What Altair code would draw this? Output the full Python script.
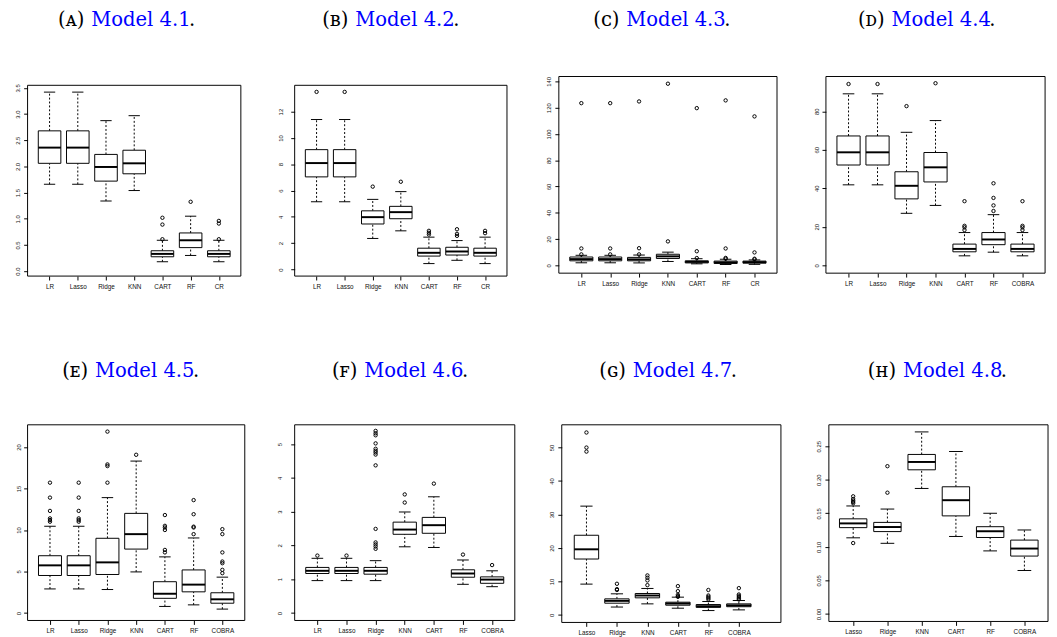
import altair as alt
import pandas as pd

AXIS_FONT = "Liberation Sans"
TITLE_FONT = "DejaVu Serif"
BLUE = "#0000ff"
TITLE_SIZE = 20
MODEL_W = 100

CATS_CR = ["LR", "Lasso", "Ridge", "KNN", "CART", "RF", "CR"]
CATS_COBRA = ["LR", "Lasso", "Ridge", "KNN", "CART", "RF", "COBRA"]
CATS_6 = ["Lasso", "Ridge", "KNN", "CART", "RF", "COBRA"]

# ---------------- Panel A : Model 4.1 ----------------
A_LOW = [1.66, 1.66, 1.34, 1.54, 0.18, 0.30, 0.18]
A_Q1 = [2.06, 2.06, 1.72, 1.86, 0.275, 0.45, 0.275]
A_MED = [2.36, 2.36, 1.99, 2.06, 0.33, 0.59, 0.33]
A_Q3 = [2.68, 2.68, 2.23, 2.31, 0.39, 0.73, 0.39]
A_HIGH = [3.42, 3.42, 2.875, 2.97, 0.59, 1.05, 0.59]
A_OUT = [[], [], [], [], [0.61, 0.89, 1.02], [1.325], [0.61, 0.91, 0.96]]
A_TICKS = [0, 0.5, 1.0, 1.5, 2.0, 2.5, 3.0, 3.5]

# ---------------- Panel B : Model 4.2 ----------------
B_LOW = [5.15, 5.15, 2.36, 2.94, 0.45, 0.70, 0.45]
B_Q1 = [7.04, 7.04, 3.46, 3.86, 1.02, 1.10, 1.02]
B_MED = [8.09, 8.09, 3.98, 4.36, 1.27, 1.37, 1.27]
B_Q3 = [9.11, 9.11, 4.46, 4.80, 1.62, 1.69, 1.62]
B_HIGH = [11.4, 11.4, 5.33, 5.92, 2.46, 2.20, 2.46]
B_OUT = [[13.5], [13.5], [6.3], [6.67], [2.66, 2.79, 2.94], [2.56, 2.71, 3.06], [2.76, 2.94]]
B_TICKS = [0, 2, 4, 6, 8, 10, 12]

# ---------------- Panel C : Model 4.3 ----------------
C_LOW = [1.9, 1.9, 1.8, 2.9, 1.1, 0.6, 0.7]
C_Q1 = [3.4, 3.4, 3.4, 5.2, 1.8, 1.4, 1.6]
C_MED = [4.7, 4.7, 4.5, 6.8, 2.6, 2.2, 2.4]
C_Q3 = [6.3, 6.3, 6.0, 8.4, 3.4, 3.2, 3.2]
C_HIGH = [7.6, 7.6, 7.8, 10.0, 5.0, 4.6, 4.1]
C_OUT = [[8.3, 12.8, 123.5], [8.3, 12.8, 123.5], [8.3, 13.0, 124.8], [18.2, 138.3],
         [5.5, 10.7, 119.7], [5.0, 5.6, 12.8, 125.6], [4.5, 5.0, 9.8, 113.4]]
C_TICKS = [0, 20, 40, 60, 80, 100, 120, 140]

# ---------------- Panel D : Model 4.4 ----------------
D_LOW = [41.8, 41.8, 27.0, 31.1, 4.9, 6.8, 4.9]
D_Q1 = [52.1, 52.1, 34.5, 43.3, 7.0, 10.7, 7.0]
D_MED = [58.7, 58.7, 41.3, 50.9, 8.5, 13.4, 8.5]
D_Q3 = [67.2, 67.2, 48.6, 58.6, 11.0, 17.0, 11.0]
D_HIGH = [89.1, 89.1, 69.1, 75.2, 17.0, 26.3, 17.0]
D_OUT = [[94.2], [94.2], [82.7], [94.6], [18.3, 19.7, 20.5, 33.3],
         [28.2, 31.1, 35.0, 42.6], [18.3, 19.7, 20.5, 33.3]]
D_TICKS = [0, 20, 40, 60, 80]

# ---------------- Panel E : Model 4.5 ----------------
E_LOW = [2.9, 2.9, 2.83, 4.95, 0.79, 0.98, 0.47]
E_Q1 = [4.52, 4.52, 4.64, 7.7, 1.77, 2.55, 1.18]
E_MED = [5.74, 5.74, 6.1, 9.5, 2.32, 3.42, 1.65]
E_Q3 = [6.9, 6.9, 9.0, 12.0, 3.77, 5.19, 2.44]
E_HIGH = [10.45, 10.45, 13.9, 18.3, 6.76, 9.04, 4.32]
E_OUT = [[11.0, 11.2, 11.4, 12.3, 13.9, 15.7], [11.0, 11.2, 11.4, 12.3, 13.9, 15.7],
         [15.7, 17.7, 17.9, 21.85], [19.06], [7.3, 7.6, 10.0, 10.3, 10.5, 11.8],
         [9.5, 10.3, 10.4, 11.9, 13.6], [4.8, 5.2, 6.0, 6.2, 7.3, 9.5, 10.1]]
E_TICKS = [0, 5, 10, 15, 20]

# ---------------- Panel F : Model 4.6 ----------------
F_LOW = [0.96, 0.96, 0.96, 1.96, 1.94, 0.85, 0.78]
F_Q1 = [1.17, 1.17, 1.15, 2.33, 2.36, 1.06, 0.88]
F_MED = [1.25, 1.25, 1.25, 2.47, 2.60, 1.17, 0.99]
F_Q3 = [1.35, 1.35, 1.35, 2.69, 2.83, 1.28, 1.07]
F_HIGH = [1.62, 1.62, 1.55, 2.99, 3.44, 1.57, 1.25]
F_OUT = [[1.7], [1.7],
         [1.9, 1.97, 2.03, 2.09, 2.49, 4.37, 4.69, 4.75, 4.8, 4.86, 5.02, 5.26, 5.32, 5.39],
         [3.27, 3.51], [3.83], [1.73], [1.42]]
F_TICKS = [0, 1, 2, 3, 4, 5]

# ---------------- Panel G : Model 4.7 ----------------
G_LOW = [9.2, 2.35, 3.3, 2.0, 1.3, 1.5]
G_Q1 = [16.7, 3.5, 5.1, 2.9, 2.25, 2.45]
G_MED = [19.6, 4.2, 5.8, 3.4, 2.6, 2.85]
G_Q3 = [23.8, 4.8, 6.4, 3.8, 3.1, 3.3]
G_HIGH = [32.5, 6.3, 7.9, 5.3, 4.0, 4.3]
G_OUT = [[48.8, 50.0, 54.5], [7.45, 7.7, 9.3], [8.9, 10.3, 11.1, 11.8],
         [5.4, 5.6, 6.0, 7.1, 8.6], [4.6, 5.0, 5.4, 5.8, 7.45], [4.6, 4.9, 5.3, 5.7, 6.1, 8.0]]
G_TICKS = [0, 10, 20, 30, 40, 50]

# ---------------- Panel H : Model 4.8 ----------------
H_LOW = [0.1135, 0.1053, 0.1871, 0.1155, 0.094, 0.0648]
H_Q1 = [0.1287, 0.1228, 0.2149, 0.1462, 0.114, 0.0863]
H_MED = [0.135, 0.1296, 0.2266, 0.1696, 0.1233, 0.0975]
H_Q3 = [0.1418, 0.1365, 0.2378, 0.1896, 0.1301, 0.1101]
H_HIGH = [0.161, 0.1564, 0.2714, 0.2422, 0.1501, 0.1252]
H_OUT = [[0.1057, 0.165, 0.167, 0.169, 0.1715, 0.1754], [0.1808, 0.2203], [], [], [], []]
H_TICKS = [0, 0.05, 0.10, 0.15, 0.20, 0.25]

SMALLCAP = {"A": "\u1d00", "B": "\u0299", "C": "\u1d04", "D": "\u1d05",
            "E": "\u1d07", "F": "\ua730", "G": "\u0262", "H": "\u029c"}


def make_panel(letter, model, cats, low, q1, med, q3, high, outs, ticks, fmt,
               ydom, xdom, w, h, ext, lpad, xpad, tx, tb, drop=0):
    """drop: empty pixels kept above the frame so the frame sits lower in its row."""
    n = len(cats)
    pos = list(range(1, n + 1))
    box = pd.DataFrame({"pos": pos, "cat": cats, "low": low, "q1": q1,
                        "med": med, "q3": q3, "high": high})
    rows = [(i + 1, v) for i, vs in enumerate(outs) for v in vs]
    outdf = pd.DataFrame(rows, columns=["pos", "val"])
    frame = pd.DataFrame({"x0": [xdom[0]], "x1": [xdom[1]],
                          "y0": [ydom[0]], "y1": [ydom[1]]})

    ytop = ydom[1] + drop * (ydom[1] - ydom[0]) / h
    xs = alt.Scale(domain=xdom, nice=False, zero=False)
    ys = alt.Scale(domain=[ydom[0], ytop], nice=False, zero=False)
    lab = "[" + ",".join("'%s'" % c for c in cats) + "][datum.value - 1]"
    xaxis = alt.Axis(values=pos, labelExpr=lab, labelAngle=0, labelFont=AXIS_FONT,
                     labelFontSize=6.5, labelColor="#111111", labelPadding=xpad,
                     tickSize=4, tickColor="black", tickWidth=1, domain=False,
                     grid=False, title=None, labelOverlap=False, labelFlush=False)
    yaxis = alt.Axis(values=ticks, format=fmt, labelAngle=270, labelAlign="center",
                     labelBaseline="bottom", labelFont=AXIS_FONT, labelFontSize=6,
                     labelColor="#111111", labelPadding=lpad, tickSize=4,
                     tickColor="black", tickWidth=1, domain=False, grid=False,
                     title=None, labelOverlap=False, labelFlush=False,
                     minExtent=ext, maxExtent=ext)

    def X(f):
        return alt.X(f, type="quantitative", scale=xs, axis=xaxis)

    def Y(f):
        return alt.Y(f, type="quantitative", scale=ys, axis=yaxis)

    fr = alt.Chart(frame).mark_rect(fillOpacity=0, stroke="black", strokeWidth=1).encode(
        x=X("x0"), x2="x1", y=Y("y0"), y2="y1")

    base = alt.Chart(box).transform_calculate(
        bl="datum.pos - 0.4", br="datum.pos + 0.4",
        cl="datum.pos - 0.2", cr="datum.pos + 0.2")
    wlo = base.mark_rule(color="black", strokeWidth=1, strokeDash=[2, 2]).encode(
        x=X("pos"), y=Y("low"), y2="q1")
    whi = base.mark_rule(color="black", strokeWidth=1, strokeDash=[2, 2]).encode(
        x=X("pos"), y=Y("q3"), y2="high")
    clo = base.mark_rule(color="black", strokeWidth=1).encode(
        x=X("cl"), x2="cr", y=Y("low"))
    chi = base.mark_rule(color="black", strokeWidth=1).encode(
        x=X("cl"), x2="cr", y=Y("high"))
    bx = base.mark_rect(fill="white", stroke="black", strokeWidth=1).encode(
        x=X("bl"), x2="br", y=Y("q1"), y2="q3")
    md = base.mark_rule(color="black", strokeWidth=2).encode(
        x=X("bl"), x2="br", y=Y("med"))
    pts = alt.Chart(outdf).mark_point(shape="circle", filled=False, color="black",
                                      size=12, strokeWidth=1, opacity=1).encode(
        x=X("pos"), y=Y("val"))

    one = pd.DataFrame({"k": [0]})
    tstyle = dict(font=TITLE_FONT, fontSize=TITLE_SIZE, baseline="alphabetic")
    t1 = alt.Chart(one).mark_text(text="(" + SMALLCAP[letter] + ")", align="right",
                                  color="black", **tstyle).encode(
        x=alt.value(tx - 7), y=alt.value(tb))
    t2 = alt.Chart(one).mark_text(text=model, align="left", color=BLUE, **tstyle).encode(
        x=alt.value(tx), y=alt.value(tb))
    t3 = alt.Chart(one).mark_text(text=".", align="left", color="black", **tstyle).encode(
        x=alt.value(tx + MODEL_W), y=alt.value(tb))

    return alt.layer(fr, wlo, whi, clo, chi, bx, md, pts, t1, t2, t3).properties(
        width=w, height=h + drop)


pA = make_panel("A", "Model 4.1", CATS_CR, A_LOW, A_Q1, A_MED, A_Q3, A_HIGH, A_OUT,
                A_TICKS, ".1f", [-0.094, 3.55], [0.22, 7.78], 218, 195, 20, 3, 3.5, 65,
                -51.3, drop=9)
pB = make_panel("B", "Model 4.2", CATS_CR, B_LOW, B_Q1, B_MED, B_Q3, B_HIGH, B_OUT,
                B_TICKS, "d", [-0.5, 14.0], [0.22, 7.78], 217, 195, 24, 7, 3.5, 62,
                -51.3, drop=9)
pC = make_panel("C", "Model 4.3", CATS_CR, C_LOW, C_Q1, C_MED, C_Q3, C_HIGH, C_OUT,
                C_TICKS, "d", [-6.0, 143.8], [0.22, 7.78], 223, 201, 22, 4, 3.5, 69, -51.3)
pD = make_panel("D", "Model 4.4", CATS_COBRA, D_LOW, D_Q1, D_MED, D_Q3, D_HIGH, D_OUT,
                D_TICKS, "d", [-4.1, 98.1], [0.22, 7.78], 224, 201, 19, 3, 3.5, 67, -51.3)
pE = make_panel("E", "Model 4.5", CATS_COBRA, E_LOW, E_Q1, E_MED, E_Q3, E_HIGH, E_OUT,
                E_TICKS, "d", [-0.9, 22.67], [0.22, 7.78], 222, 200, 17, 2, 3, 69, -49)
pF = make_panel("F", "Model 4.6", CATS_COBRA, F_LOW, F_Q1, F_MED, F_Q3, F_HIGH, F_OUT,
                F_TICKS, "d", [-0.22, 5.57], [0.22, 7.78], 225, 200, 20, 8, 3, 71, -49)
pG = make_panel("G", "Model 4.7", CATS_6, G_LOW, G_Q1, G_MED, G_Q3, G_HIGH, G_OUT,
                G_TICKS, "d", [-2.25, 56.8], [0.19, 7.38], 224, 202, 17, 3, 3, 72.6, -49)
pH = make_panel("H", "Model 4.8", CATS_6, H_LOW, H_Q1, H_MED, H_Q3, H_HIGH, H_OUT,
                H_TICKS, ".2f", [-0.0112, 0.282], [0.29, 6.69], 224, 201, 18, 4, 3, 75.7, -49)

row1 = alt.hconcat(pA, pB, pC, pD, spacing=30)
row2 = alt.hconcat(pE, pF, pG, pH, spacing=30)
chart = alt.vconcat(row1, row2, spacing=73).properties(
    padding={"left": 0, "top": -5, "right": 0, "bottom": 0}
).configure_view(strokeWidth=0)

chart.save("out.html", embed_options={"renderer": "svg", "actions": False})
